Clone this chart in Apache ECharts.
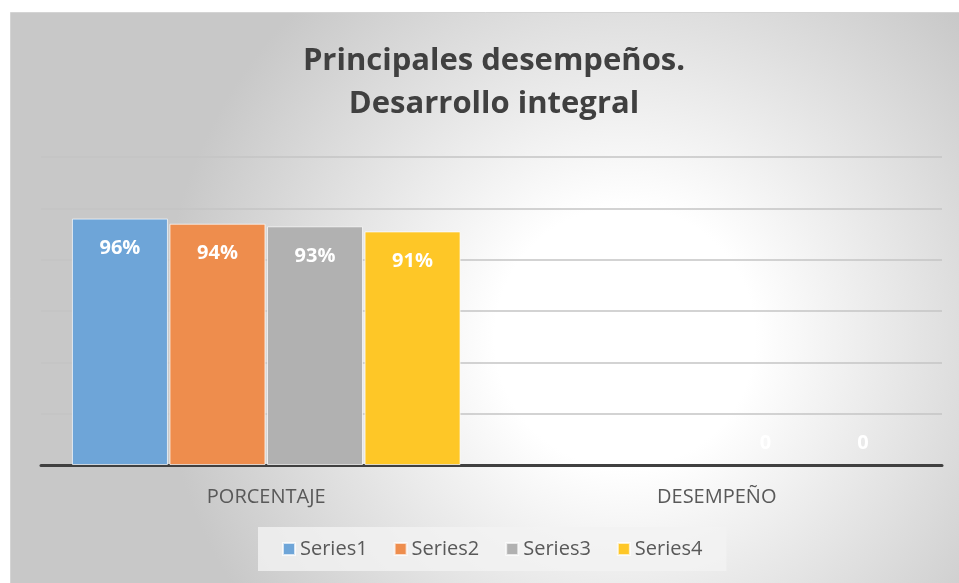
<!DOCTYPE html>
<html lang="es">
<head>
    <meta charset="UTF-8">
    <title>Principales desempeños</title>
    <script src="https://cdn.jsdelivr.net/npm/echarts@6/dist/echarts.min.js"></script>
    <style>
        html, body {
            margin: 0;
            padding: 0;
            background-color: #ffffff;
        }
        #chart {
            width: 959px;
            height: 583px;
        }
    </style>
</head>
<body>
<div id="chart"></div>
<script>
    // datos
    var categories = ['PORCENTAJE', 'DESEMPEÑO'];
    var seriesNames = ['Series1', 'Series2', 'Series3', 'Series4'];
    var series1 = [96, null];
    var series2 = [94, null];
    var series3 = [93, 0];
    var series4 = [91, 0];
    var colors = ['#6ea5d8', '#ee8d4d', '#b1b1b1', '#fec727'];

    var allValues = [series1, series2, series3, series4];

    function buildData(values) {
        return values.map(function (v) {
            if (v === 0) {
                // Excel pone la etiqueta del cero encima del eje
                return {
                    value: v,
                    itemStyle: { color: 'transparent', borderWidth: 0 },
                    label: { position: 'top', distance: 12 }
                };
            }
            return { value: v };
        });
    }

    var series = seriesNames.map(function (name, i) {
        return {
            name: name,
            type: 'bar',
            barWidth: 96,
            barGap: '1.6%',
            data: buildData(allValues[i]),
            itemStyle: {
                color: colors[i],
                borderColor: 'rgba(255,255,255,0.7)',
                borderWidth: 1
            },
            label: {
                show: true,
                position: 'insideTop',
                distance: 20,
                color: '#ffffff',
                fontFamily: 'Open Sans',
                fontWeight: 'bold',
                fontSize: 20,
                formatter: function (p) {
                    return p.value === 0 ? '0' : p.value + '%';
                }
            }
        };
    });

    var chart = echarts.init(document.getElementById('chart'));
    chart.setOption({
        animation: false,
        color: colors,
        graphic: [{
            type: 'rect',
            z: -10,
            silent: true,
            shape: { x: 10.5, y: 12.5, width: 960, height: 580 },
            style: {
                fill: {
                    type: 'radial',
                    x: 0.64, y: 0.56, r: 0.8,
                    colorStops: [
                        { offset: 0, color: '#ffffff' },
                        { offset: 0.28, color: '#ffffff' },
                        { offset: 1, color: '#c8c8c8' }
                    ]
                },
                stroke: '#d4d4d4',
                lineWidth: 1
            }
        }],
        title: {
            text: 'Principales desempeños.\nDesarrollo integral',
            left: 489,
            textAlign: 'center',
            top: 35,
            textStyle: {
                fontFamily: 'Open Sans',
                fontWeight: 'bold',
                fontSize: 31,
                lineHeight: 43,
                color: '#404040'
            }
        },
        legend: {
            data: seriesNames,
            left: 258,
            top: 527,
            icon: 'rect',
            itemWidth: 12,
            itemHeight: 12,
            itemGap: 26,
            padding: [12, 24],
            backgroundColor: 'rgba(242,242,242,0.8)',
            textStyle: {
                fontFamily: 'Open Sans',
                fontSize: 20,
                color: '#595959'
            }
        },
        grid: {
            left: 41,
            right: 17,
            top: 157,
            bottom: 118
        },
        xAxis: {
            type: 'category',
            data: categories,
            axisTick: { show: false },
            axisLine: {
                lineStyle: { color: '#404040', width: 3 }
            },
            axisLabel: {
                margin: 22,
                fontFamily: 'Open Sans',
                fontSize: 20,
                color: '#595959'
            }
        },
        yAxis: {
            type: 'value',
            min: 0,
            max: 120,
            interval: 20,
            axisLabel: { show: false },
            axisLine: { show: false },
            axisTick: { show: false },
            splitLine: {
                lineStyle: { color: '#c4c4c4', width: 1.5 }
            }
        },
        series: series
    });
</script>
</body>
</html>
